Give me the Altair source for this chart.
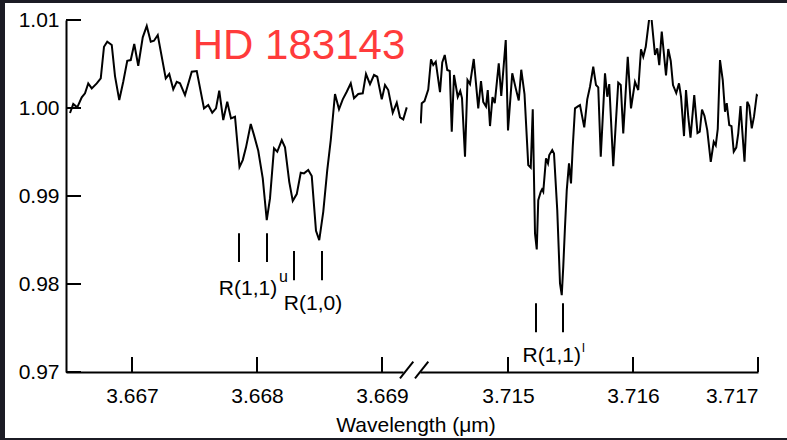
import altair as alt
import pandas as pd

# ---- Spectrum, short-wavelength window (um, normalised flux) ----
wl_blue = [3.666504, 3.666530, 3.666562, 3.666598, 3.666624, 3.666650, 3.666678, 3.666718,
           3.666750, 3.666776, 3.666802, 3.666838, 3.666864, 3.666898, 3.666930, 3.666962,
           3.666990, 3.667018, 3.667050, 3.667086, 3.667118, 3.667150, 3.667176, 3.667206,
           3.667270, 3.667298, 3.667330, 3.667358, 3.667384, 3.667424, 3.667478, 3.667518,
           3.667576, 3.667610, 3.667642, 3.667672, 3.667698, 3.667730, 3.667762, 3.667792,
           3.667824, 3.667860, 3.667886, 3.667912, 3.667950, 3.667976, 3.668010, 3.668046,
           3.668078, 3.668104, 3.668136, 3.668162, 3.668198, 3.668224, 3.668258, 3.668286,
           3.668318, 3.668350, 3.668376, 3.668410, 3.668438, 3.668472, 3.668498, 3.668530,
           3.668562, 3.668590, 3.668624, 3.668656, 3.668686, 3.668718, 3.668750, 3.668776,
           3.668810, 3.668846, 3.668872, 3.668904, 3.668936, 3.668962, 3.668998, 3.669024,
           3.669050, 3.669086, 3.669118, 3.669144, 3.669170, 3.669198]
flux_blue = [0.99943, 1.00045, 1.00007, 1.00121, 1.00167, 1.00280, 1.00223, 1.00280,
             1.00337, 1.00696, 1.00753, 1.00716, 1.00363, 1.00090, 1.00298, 1.00537,
             1.00545, 1.00727, 1.00480, 1.00803, 1.00932, 1.00753, 1.00765, 1.00829,
             1.00337, 1.00386, 1.00212, 1.00298, 1.00280, 1.00147, 1.00412, 1.00420,
             0.99996, 1.00034, 0.99946, 0.99996, 1.00196, 0.99863, 1.00071, 0.99882,
             0.99901, 0.99329, 0.99408, 0.99553, 0.99818, 0.99692, 0.99514, 0.99200,
             0.98726, 0.98973, 0.99541, 0.99503, 0.99636, 0.99553, 0.99161, 0.98945,
             0.99022, 0.99264, 0.99257, 0.99295, 0.99226, 0.98604, 0.98499, 0.98820,
             0.99295, 0.99636, 1.00159, 0.99985, 1.00098, 1.00185, 1.00280, 1.00110,
             1.00159, 1.00167, 1.00386, 1.00272, 1.00375, 1.00355, 1.00098, 1.00261,
             1.00204, 0.99946, 1.00060, 0.99894, 0.99871, 1.00007]

# ---- Spectrum, long-wavelength window ----
wl_red = [3.714302, 3.714310, 3.714332, 3.714362, 3.714384, 3.714402, 3.714422, 3.714456,
          3.714474, 3.714494, 3.714514, 3.714534, 3.714550, 3.714568, 3.714598, 3.714618,
          3.714632, 3.714656, 3.714676, 3.714696, 3.714726, 3.714762, 3.714784, 3.714802,
          3.714824, 3.714838, 3.714856, 3.714876, 3.714894, 3.714926, 3.714946, 3.714982,
          3.715000, 3.715034, 3.715062, 3.715086, 3.715106, 3.715132, 3.715162, 3.715182,
          3.715198, 3.715216, 3.715230, 3.715242, 3.715262, 3.715272, 3.715282, 3.715304,
          3.715320, 3.715330, 3.715354, 3.715368, 3.715394, 3.715416, 3.715430, 3.715442,
          3.715456, 3.715470, 3.715488, 3.715504, 3.715518, 3.715536, 3.715562, 3.715576,
          3.715610, 3.715634, 3.715656, 3.715682, 3.715704, 3.715722, 3.715742, 3.715776,
          3.715794, 3.715810, 3.715842, 3.715882, 3.715902, 3.715922, 3.715958, 3.715984,
          3.716016, 3.716042, 3.716064, 3.716082, 3.716102, 3.716140, 3.716176, 3.716194,
          3.716210, 3.716230, 3.716264, 3.716282, 3.716302, 3.716320, 3.716346, 3.716368,
          3.716384, 3.716408, 3.716424, 3.716442, 3.716460, 3.716490, 3.716516, 3.716534,
          3.716552, 3.716572, 3.716594, 3.716622, 3.716646, 3.716662, 3.716678, 3.716696,
          3.716718, 3.716736, 3.716750, 3.716770, 3.716788, 3.716806, 3.716826, 3.716842,
          3.716860, 3.716892, 3.716914, 3.716930, 3.716950, 3.716968, 3.716990, 3.717000]
flux_red = [0.99825, 1.00053, 1.00079, 1.00210, 1.00553, 1.00488, 1.00526, 1.00181,
            1.00517, 1.00602, 1.00432, 1.00420, 0.99730, 1.00375, 1.00125, 1.00193,
            1.00113, 0.99446, 1.00318, 1.00272, 1.00557, 0.99996, 1.00306, 1.00068,
            1.00017, 1.00204, 0.99795, 1.00125, 1.00056, 1.00508, 1.00136, 1.00773,
            0.99744, 1.00394, 1.00223, 1.00085, 1.00435, 1.00159, 0.99351, 0.99323,
            0.99985, 0.98575, 0.98393, 0.98953, 0.99048, 0.99075, 0.99048, 0.99428,
            0.99371, 0.99465, 0.99522, 0.99484, 0.98840, 0.98006, 0.97873, 0.98195,
            0.98650, 0.99067, 0.99371, 0.99143, 0.99559, 0.99996, 1.00022, 1.00034,
            0.99780, 1.00098, 1.00242, 1.00469, 1.00261, 1.00235, 0.99446, 1.00394,
            1.00128, 1.00272, 0.99340, 1.00287, 1.00261, 0.99712, 1.00583, 0.99996,
            1.00298, 1.00204, 1.00667, 1.00583, 1.00696, 1.01136, 1.00602, 1.00678,
            1.00488, 1.00869, 1.00369, 1.00670, 1.00534, 1.00261, 1.00170, 1.00280,
            1.00128, 0.99681, 1.00204, 0.99901, 0.99664, 1.00147, 0.99715, 0.99730,
            0.99982, 0.99909, 0.99749, 0.99389, 0.99616, 0.99575, 0.99761, 1.00545,
            1.00318, 0.99957, 1.00056, 0.99806, 0.99793, 0.99503, 0.99550, 0.99712,
            1.00022, 0.99389, 1.00071, 1.00022, 0.99769, 0.99901, 1.00147, 1.00136]

# ---- Line identifications (wavelength, marker top, marker bottom) ----
id_blue_wl = [3.667856, 3.668080, 3.668296, 3.668520]
id_blue_top = [0.98578, 0.98578, 0.98374, 0.98374]
id_blue_bot = [0.98249, 0.98249, 0.98044, 0.98044]
id_red_wl = [3.715224, 3.715440]
id_red_top = [0.97782, 0.97782]
id_red_bot = [0.97453, 0.97453]

# ---- Axis ticks ----
y_ticks = [0.97, 0.98, 0.99, 1.00, 1.01]
x_ticks_blue = [3.667, 3.668, 3.669]
x_ticks_red = [3.715, 3.716, 3.717]

FONT = "Liberation Sans"
W_BLUE, W_RED, H = 337, 338, 352
TICK = 15
LW = 2

y_scale = alt.Scale(domain=[0.97, 1.01], nice=False, zero=False)
x_scale_blue = alt.Scale(domain=[3.666472, 3.669168], nice=False, zero=False)
x_scale_red = alt.Scale(domain=[3.714296, 3.717000], nice=False, zero=False)

axis_style = dict(ticks=False, tickSize=0, grid=False, domainColor="black", domainWidth=2,
                  labelFont=FONT, labelFontSize=21, labelColor="black", title=None, zindex=1)

x_blue = alt.X("wl:Q", scale=x_scale_blue,
               axis=alt.Axis(values=x_ticks_blue, format=".3f", labelPadding=13, **axis_style))
x_red = alt.X("wl:Q", scale=x_scale_red,
              axis=alt.Axis(values=x_ticks_red, format=".3f", labelPadding=13, **axis_style))
y_left = alt.Y("flux:Q", scale=y_scale,
               axis=alt.Axis(values=y_ticks, format=".2f", labelPadding=7, **axis_style))
y_right = alt.Y("flux:Q", scale=y_scale, axis=None)

one = pd.DataFrame({"k": [0]})

# page backdrop and white plotting sheet
backdrop = alt.Chart(one).mark_rect(color="#1b1b24").encode(
    x=alt.value(-66), x2=alt.value(721), y=alt.value(-20), y2=alt.value(420))
sheet = alt.Chart(one).mark_rect(color="white").encode(
    x=alt.value(-61), x2=alt.value(721), y=alt.value(-17), y2=alt.value(418))

# inward ticks
yt = alt.Chart(pd.DataFrame({"flux": y_ticks})).mark_rule(color="black", strokeWidth=2).encode(
    y=y_left, x=alt.value(0), x2=alt.value(TICK))
xt_blue = alt.Chart(pd.DataFrame({"wl": x_ticks_blue})).mark_rule(color="black", strokeWidth=2).encode(
    x=x_blue, y=alt.value(H), y2=alt.value(H - TICK))
xt_red = alt.Chart(pd.DataFrame({"wl": x_ticks_red})).mark_rule(color="black", strokeWidth=2).encode(
    x=x_red, y=alt.value(H), y2=alt.value(H - TICK))

# spectra
spec_blue = alt.Chart(pd.DataFrame({"wl": wl_blue, "flux": flux_blue})).mark_line(
    color="black", strokeWidth=LW).encode(x=x_blue, y=y_left, order="wl:Q")
spec_red = alt.Chart(pd.DataFrame({"wl": wl_red, "flux": flux_red})).mark_line(
    color="black", strokeWidth=LW, clip=True).encode(x=x_red, y=y_right, order="wl:Q")

# identification markers
ids_blue = alt.Chart(pd.DataFrame({"wl": id_blue_wl, "flux": id_blue_top, "flux2": id_blue_bot})).mark_rule(
    color="black", strokeWidth=LW).encode(x=x_blue, y=y_left, y2="flux2:Q")
ids_red = alt.Chart(pd.DataFrame({"wl": id_red_wl, "flux": id_red_top, "flux2": id_red_bot})).mark_rule(
    color="black", strokeWidth=LW).encode(x=x_red, y=y_right, y2="flux2:Q")

# labels
lab_blue = pd.DataFrame({
    "wl": [3.667928, 3.668448],
    "flux": [0.97873, 0.97703],
    "text": ["R(1,1)", "R(1,0)"],
})
lab_blue_t = alt.Chart(lab_blue).mark_text(font=FONT, fontSize=21, color="black",
                                           align="center", baseline="alphabetic").encode(
    x=x_blue, y=y_left, text="text:N")
sup_u = alt.Chart(pd.DataFrame({"wl": [3.668176], "flux": [0.98024], "text": ["u"]})).mark_text(
    font=FONT, fontSize=16, color="black", align="left", baseline="alphabetic").encode(
    x=x_blue, y=y_left, text="text:N")

lab_red_t = alt.Chart(pd.DataFrame({"wl": [3.715350], "flux": [0.97111], "text": ["R(1,1)"]})).mark_text(
    font=FONT, fontSize=21, color="black", align="center", baseline="alphabetic").encode(
    x=x_red, y=y_right, text="text:N")
sup_l = alt.Chart(pd.DataFrame({"wl": [3.715592], "flux": [0.97229], "text": ["l"]})).mark_text(
    font=FONT, fontSize=13, color="black", align="left", baseline="alphabetic").encode(
    x=x_red, y=y_right, text="text:N")

star = alt.Chart(pd.DataFrame({"wl": [3.668336], "flux": [1.00553], "text": ["HD 183143"]})).mark_text(
    font=FONT, fontSize=42, color="#ff3b3b", align="center", baseline="alphabetic").encode(
    x=x_blue, y=y_left, text="text:N")

x_title = alt.Chart(one).mark_text(font=FONT, fontSize=21, color="black", align="center",
                                   baseline="alphabetic", text="Wavelength (\u03bcm)").encode(
    x=alt.value(350), y=alt.value(411.5))

# axis break marks
brk = alt.Chart(pd.DataFrame({"x0": [-20, -5], "x1": [-6.7, 8.3]})).mark_rule(
    color="black", strokeWidth=LW).encode(
    x=alt.X("x0:Q", scale=None), x2="x1:Q", y=alt.value(358.3), y2=alt.value(341.7))

left = alt.layer(backdrop, sheet, yt, xt_blue, spec_blue, ids_blue, lab_blue_t, sup_u, star, x_title
                 ).properties(width=W_BLUE, height=H)
right = alt.layer(xt_red, spec_red, ids_red, lab_red_t, sup_l, brk
                  ).properties(width=W_RED, height=H)

chart = alt.hconcat(left, right, spacing=17, bounds="flush", padding=0,
                    background="#1b1b24").configure_view(stroke=None)

chart.save("out.html", embed_options={"renderer": "svg", "actions": False})
